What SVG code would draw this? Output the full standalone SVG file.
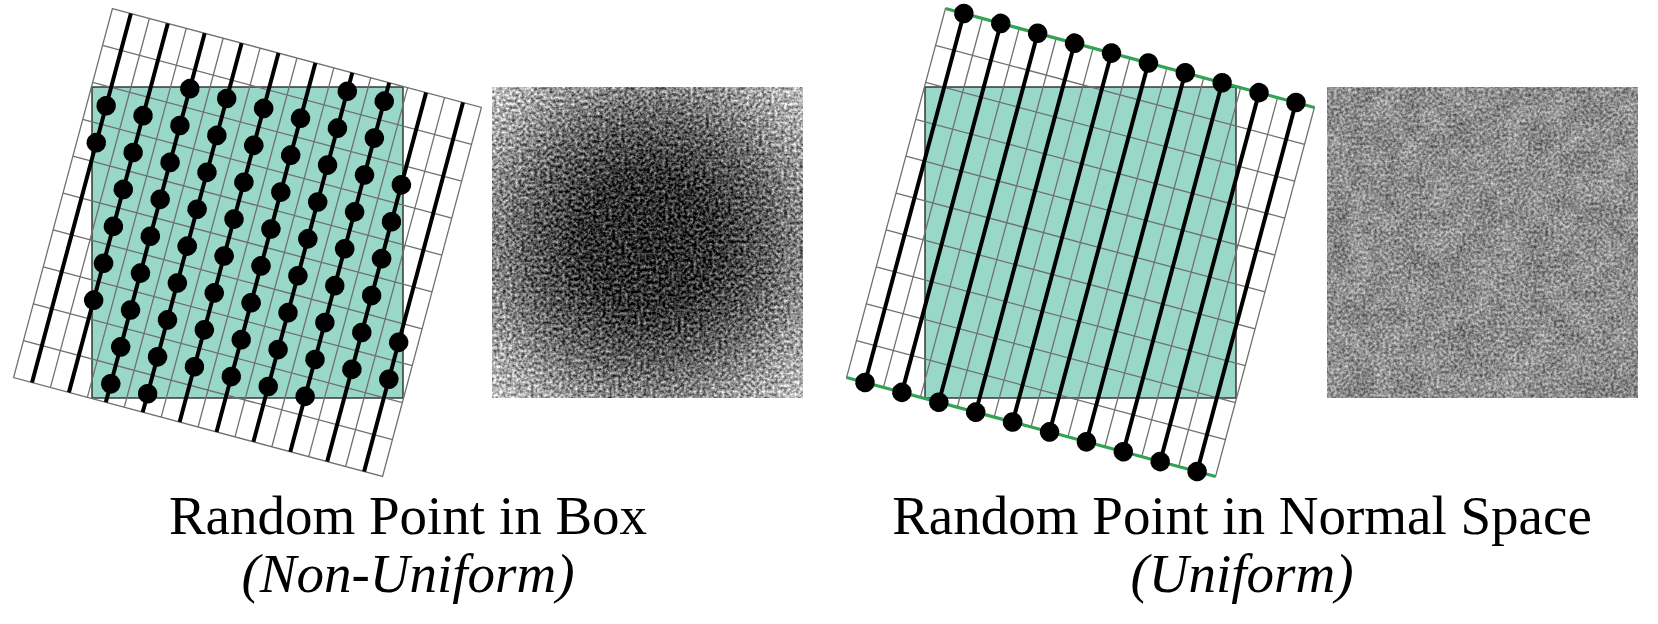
<svg xmlns="http://www.w3.org/2000/svg" xmlns:xlink="http://www.w3.org/1999/xlink" width="1658" height="624" viewBox="0 0 1658 624">
<style>
.box{fill:#99d8c9;stroke:none}
.boxline{fill:none;stroke:#2b2b2b;stroke-width:1.4}
.grid{fill:none;stroke:#707070;stroke-width:1.3}
.thick{fill:none;stroke:#000;stroke-width:4;stroke-linecap:butt}
.edge{fill:none;stroke:#31a354;stroke-width:3.2}
.dot{fill:#000}
.title{font-family:"Liberation Serif","Times New Roman",serif;font-size:55px;fill:#000;text-anchor:middle}
.sub{font-style:italic}
</style>
<defs>
<path id="gridpath" class="grid" d="M-191,-191H191V191H-191Z M-171.9,-191V191 M-152.8,-191V191 M-133.7,-191V191 M-114.6,-191V191 M-95.5,-191V191 M-76.4,-191V191 M-57.3,-191V191 M-38.2,-191V191 M-19.1,-191V191 M0,-191V191 M19.1,-191V191 M38.2,-191V191 M57.3,-191V191 M76.4,-191V191 M95.5,-191V191 M114.6,-191V191 M133.7,-191V191 M152.8,-191V191 M171.9,-191V191 M-191,-152.8H191 M-191,-114.6H191 M-191,-76.4H191 M-191,-38.2H191 M-191,0H191 M-191,38.2H191 M-191,76.4H191 M-191,114.6H191 M-191,152.8H191"/>
<path id="thickpath" class="thick" d="M-171.9,-191V191 M-133.7,-191V191 M-95.5,-191V191 M-57.3,-191V191 M-19.1,-191V191 M19.1,-191V191 M57.3,-191V191 M95.5,-191V191 M133.7,-191V191 M171.9,-191V191"/>
<circle id="dot" class="dot" r="9.8"/>
<radialGradient id="gL" cx="0.5" cy="0.5" r="0.72">
<stop offset="0" stop-color="#2a2a2a"/>
<stop offset="0.3" stop-color="#333"/>
<stop offset="0.55" stop-color="#626262"/>
<stop offset="0.78" stop-color="#9c9c9c"/>
<stop offset="1" stop-color="#c6c6c6"/>
</radialGradient>
<filter id="noiseL" x="0" y="0" width="1" height="1" color-interpolation-filters="sRGB">
<feTurbulence type="fractalNoise" baseFrequency="0.32" numOctaves="3" seed="11" result="hi"/>
<feColorMatrix in="hi" type="matrix" values="1 0 0 0 0 1 0 0 0 0 1 0 0 0 0 0 0 0 0 1" result="hig"/>
<feComposite in="SourceGraphic" in2="hig" operator="arithmetic" k1="0" k2="1" k3="1.1" k4="-0.55"/>
</filter>
<filter id="noiseR" x="0" y="0" width="1" height="1" color-interpolation-filters="sRGB">
<feTurbulence type="fractalNoise" baseFrequency="0.35" numOctaves="3" seed="5" result="hi"/>
<feColorMatrix in="hi" type="matrix" values="1 0 0 0 0 1 0 0 0 0 1 0 0 0 0 0 0 0 0 1" result="hig"/>
<feTurbulence type="fractalNoise" baseFrequency="0.04" numOctaves="2" seed="2" result="lo"/>
<feColorMatrix in="lo" type="matrix" values="1 0 0 0 0 1 0 0 0 0 1 0 0 0 0 0 0 0 0 1" result="log"/>
<feComposite in="SourceGraphic" in2="hig" operator="arithmetic" k1="0" k2="1" k3="0.75" k4="-0.375" result="a"/>
<feComposite in="a" in2="log" operator="arithmetic" k1="0" k2="1" k3="0.2" k4="-0.1"/>
</filter>
</defs>

<g id="panel-box">
<rect class="box" x="92" y="87" width="311" height="311"/>
<rect class="boxline" x="92" y="87" width="311" height="311"/>
<g transform="translate(247.5,242.5) rotate(15)">
<use href="#gridpath"/>
<use href="#thickpath"/>
<g id="dots-box">
<use href="#dot" x="-171.9" y="-95.5"/><use href="#dot" x="-171.9" y="-57.3"/>
<use href="#dot" x="-133.7" y="-95.5"/><use href="#dot" x="-133.7" y="-57.3"/><use href="#dot" x="-133.7" y="-19.1"/><use href="#dot" x="-133.7" y="19.1"/><use href="#dot" x="-133.7" y="57.3"/><use href="#dot" x="-133.7" y="95.5"/>
<use href="#dot" x="-95.5" y="-133.7"/><use href="#dot" x="-95.5" y="-95.5"/><use href="#dot" x="-95.5" y="-57.3"/><use href="#dot" x="-95.5" y="-19.1"/><use href="#dot" x="-95.5" y="19.1"/><use href="#dot" x="-95.5" y="57.3"/><use href="#dot" x="-95.5" y="95.5"/><use href="#dot" x="-95.5" y="133.7"/><use href="#dot" x="-95.5" y="171.9"/>
<use href="#dot" x="-57.3" y="-133.7"/><use href="#dot" x="-57.3" y="-95.5"/><use href="#dot" x="-57.3" y="-57.3"/><use href="#dot" x="-57.3" y="-19.1"/><use href="#dot" x="-57.3" y="19.1"/><use href="#dot" x="-57.3" y="57.3"/><use href="#dot" x="-57.3" y="95.5"/><use href="#dot" x="-57.3" y="133.7"/><use href="#dot" x="-57.3" y="171.9"/>
<use href="#dot" x="-19.1" y="-133.7"/><use href="#dot" x="-19.1" y="-95.5"/><use href="#dot" x="-19.1" y="-57.3"/><use href="#dot" x="-19.1" y="-19.1"/><use href="#dot" x="-19.1" y="19.1"/><use href="#dot" x="-19.1" y="57.3"/><use href="#dot" x="-19.1" y="95.5"/><use href="#dot" x="-19.1" y="133.7"/>
<use href="#dot" x="19.1" y="-133.7"/><use href="#dot" x="19.1" y="-95.5"/><use href="#dot" x="19.1" y="-57.3"/><use href="#dot" x="19.1" y="-19.1"/><use href="#dot" x="19.1" y="19.1"/><use href="#dot" x="19.1" y="57.3"/><use href="#dot" x="19.1" y="95.5"/><use href="#dot" x="19.1" y="133.7"/>
<use href="#dot" x="57.3" y="-171.9"/><use href="#dot" x="57.3" y="-133.7"/><use href="#dot" x="57.3" y="-95.5"/><use href="#dot" x="57.3" y="-57.3"/><use href="#dot" x="57.3" y="-19.1"/><use href="#dot" x="57.3" y="19.1"/><use href="#dot" x="57.3" y="57.3"/><use href="#dot" x="57.3" y="95.5"/><use href="#dot" x="57.3" y="133.7"/>
<use href="#dot" x="95.5" y="-171.9"/><use href="#dot" x="95.5" y="-133.7"/><use href="#dot" x="95.5" y="-95.5"/><use href="#dot" x="95.5" y="-57.3"/><use href="#dot" x="95.5" y="-19.1"/><use href="#dot" x="95.5" y="19.1"/><use href="#dot" x="95.5" y="57.3"/><use href="#dot" x="95.5" y="95.5"/><use href="#dot" x="95.5" y="133.7"/>
<use href="#dot" x="133.7" y="-95.5"/><use href="#dot" x="133.7" y="-57.3"/><use href="#dot" x="133.7" y="-19.1"/><use href="#dot" x="133.7" y="19.1"/><use href="#dot" x="133.7" y="57.3"/><use href="#dot" x="133.7" y="95.5"/>
<use href="#dot" x="171.9" y="57.3"/><use href="#dot" x="171.9" y="95.5"/>
</g>
</g>
</g>

<g id="noise-box">
<rect x="492" y="87" width="311" height="311" fill="url(#gL)" filter="url(#noiseL)"/>
</g>

<g id="panel-normal">
<rect class="box" x="925" y="87" width="311" height="311"/>
<rect class="boxline" x="925" y="87" width="311" height="311"/>
<g transform="translate(1080.5,242.5) rotate(15)">
<use href="#gridpath"/>
<use href="#thickpath"/>
<path class="edge" d="M-191,-191H191 M-191,191H191"/>
<g id="dots-normal">
<use href="#dot" x="-171.9" y="-191"/><use href="#dot" x="-133.7" y="-191"/><use href="#dot" x="-95.5" y="-191"/><use href="#dot" x="-57.3" y="-191"/><use href="#dot" x="-19.1" y="-191"/><use href="#dot" x="19.1" y="-191"/><use href="#dot" x="57.3" y="-191"/><use href="#dot" x="95.5" y="-191"/><use href="#dot" x="133.7" y="-191"/><use href="#dot" x="171.9" y="-191"/>
<use href="#dot" x="-171.9" y="191"/><use href="#dot" x="-133.7" y="191"/><use href="#dot" x="-95.5" y="191"/><use href="#dot" x="-57.3" y="191"/><use href="#dot" x="-19.1" y="191"/><use href="#dot" x="19.1" y="191"/><use href="#dot" x="57.3" y="191"/><use href="#dot" x="95.5" y="191"/><use href="#dot" x="133.7" y="191"/><use href="#dot" x="171.9" y="191"/>
</g>
</g>
</g>

<g id="noise-normal">
<rect x="1327" y="87" width="311" height="311" fill="#8e8e8e" filter="url(#noiseR)"/>
</g>

<g id="label-box">
<text class="title" font-family="Liberation Serif, serif" x="408" y="534">Random Point in Box</text>
<text class="title sub" font-family="Liberation Serif, serif" x="408" y="592">(Non-Uniform)</text>
</g>
<g id="label-normal">
<text class="title" font-family="Liberation Serif, serif" x="1242" y="534">Random Point in Normal Space</text>
<text class="title sub" font-family="Liberation Serif, serif" x="1242" y="592">(Uniform)</text>
</g>
</svg>
